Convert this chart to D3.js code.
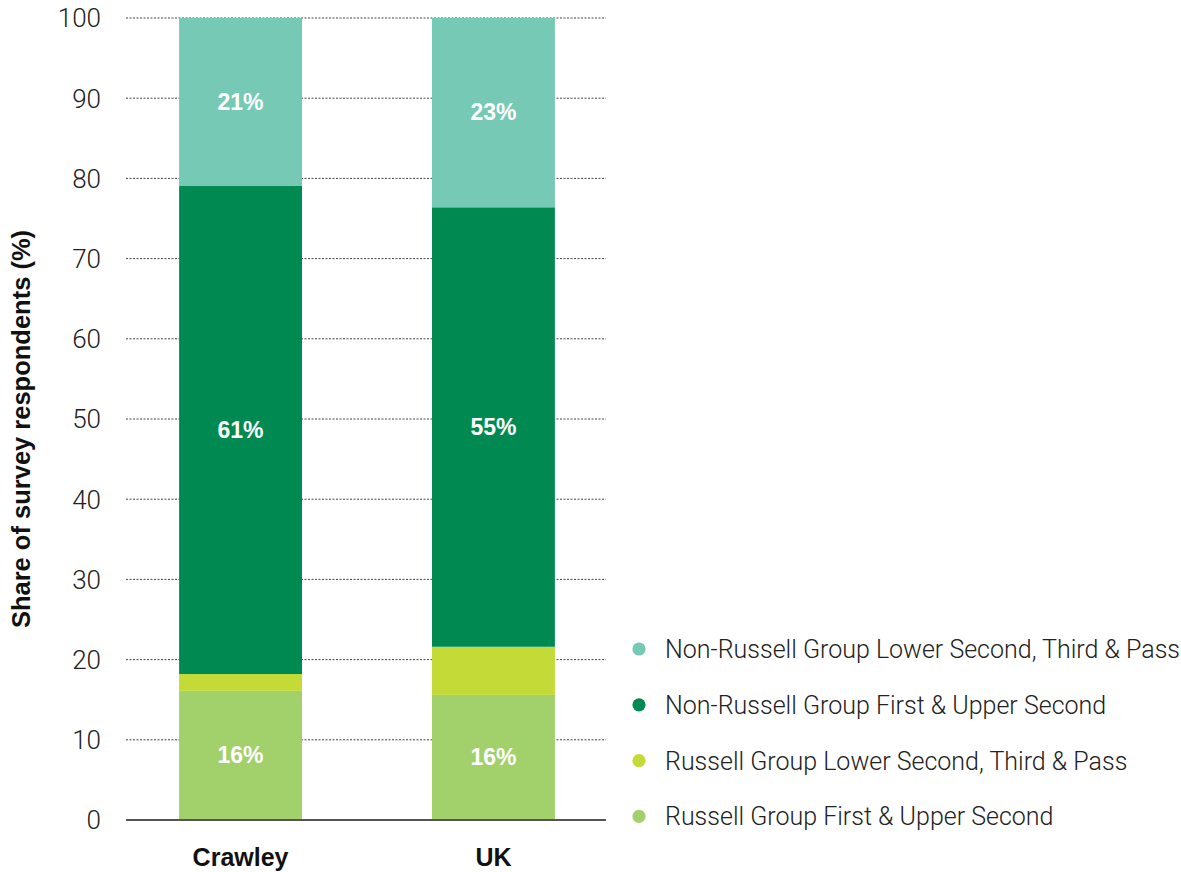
<!DOCTYPE html>
<html><head><meta charset="utf-8">
<script src="https://cdn.jsdelivr.net/npm/d3@7"></script>
<style>body{margin:0;background:#fff;} svg{display:block;}</style>
</head><body>
<svg id="chart" width="1181" height="872"></svg>
<script>
const categories = ["Crawley", "UK"];
const seriesNames = [
  "Russell Group First & Upper Second",
  "Russell Group Lower Second, Third & Pass",
  "Non-Russell Group First & Upper Second",
  "Non-Russell Group Lower Second, Third & Pass"
];
const rgFirst = [16.1, 15.6];
const rgLower = [2.1, 6.0];
const nrFirst = [60.85, 54.8];
const nrLower = [20.95, 23.6];
const segLabels = [["16%", "16%"], [null, null], ["61%", "55%"], ["21%", "23%"]];
const colors = ["#A2D06A", "#C3DA37", "#008A52", "#76C9B4"];
const yTicks = [0, 10, 20, 30, 40, 50, 60, 70, 80, 90, 100];

const svg = d3.select("#chart");
const seriesVals = [rgFirst, rgLower, nrFirst, nrLower];
const table = categories.map((c, i) => {
  const o = {cat: c};
  seriesNames.forEach((s, k) => o[s] = seriesVals[k][i]);
  return o;
});
const stacked = d3.stack().keys(seriesNames)(table);

const x = d3.scaleBand().domain(categories).range([126, 608]).paddingInner(0.514).paddingOuter(0.21);
const y = d3.scaleLinear().domain([0, 100]).range([820, 18]);

// gridlines
svg.append("g").selectAll("line").data(yTicks.filter(t => t > 0)).join("line")
  .attr("x1", 126).attr("x2", 606)
  .attr("y1", d => y(d)).attr("y2", d => y(d))
  .attr("stroke", "#444").attr("stroke-width", 1).attr("stroke-dasharray", "2,1.5");

// y tick labels
svg.append("g").selectAll("text").data(yTicks).join("text")
  .attr("x", 101).attr("y", d => y(d)).attr("dy", "0.36em")
  .attr("text-anchor", "end")
  .attr("font-family", "Roboto, sans-serif").attr("font-weight", 300)
  .attr("font-size", 26).attr("fill", "#222")
  .text(d => d);

// bars
stacked.forEach((layer, k) => {
  svg.append("g").selectAll("rect").data(layer).join("rect")
    .attr("x", d => x(d.data.cat)).attr("width", x.bandwidth())
    .attr("y", d => y(d[1])).attr("height", d => y(d[0]) - y(d[1]))
    .attr("fill", colors[k]);
  svg.append("g").selectAll("text").data(layer.map((d, i) => ({d, lab: segLabels[k][i]})).filter(o => o.lab)).join("text")
    .attr("x", o => x(o.d.data.cat) + x.bandwidth() / 2)
    .attr("y", o => y((o.d[0] + o.d[1]) / 2)).attr("dy", "0.33em")
    .attr("text-anchor", "middle")
    .attr("font-family", "'Liberation Sans', Arial, sans-serif").attr("font-weight", 700)
    .attr("font-size", 23).attr("fill", "#fff")
    .text(o => o.lab);
});

// zero line
svg.append("line").attr("x1", 126).attr("x2", 606).attr("y1", y(0)).attr("y2", y(0))
  .attr("stroke", "#555").attr("stroke-width", 2);

// x labels
svg.append("g").selectAll("text").data(categories).join("text")
  .attr("x", d => x(d) + x.bandwidth() / 2).attr("y", 866)
  .attr("text-anchor", "middle")
  .attr("font-family", "'Liberation Sans', Arial, sans-serif").attr("font-weight", 700)
  .attr("font-size", 25).attr("fill", "#111")
  .text(d => d);

// y axis title
svg.append("text")
  .attr("transform", "translate(30,429) rotate(-90)")
  .attr("text-anchor", "middle")
  .attr("font-family", "'Liberation Sans', Arial, sans-serif").attr("font-weight", 700)
  .attr("font-size", 25.5).attr("fill", "#111")
  .text("Share of survey respondents (%)");

// legend
const legendOrder = [3, 2, 1, 0];
const lg = svg.append("g").selectAll("g").data(legendOrder).join("g")
  .attr("transform", (d, i) => `translate(639,${649 + i * 55.8})`);
lg.append("circle").attr("r", 6.6).attr("fill", d => colors[d]);
lg.append("text").attr("x", 26).attr("dy", "0.36em")
  .attr("font-family", "Roboto, sans-serif").attr("font-weight", 300)
  .attr("font-size", 25).attr("fill", "#222")
  .text(d => seriesNames[d]);
</script>
</body></html>
